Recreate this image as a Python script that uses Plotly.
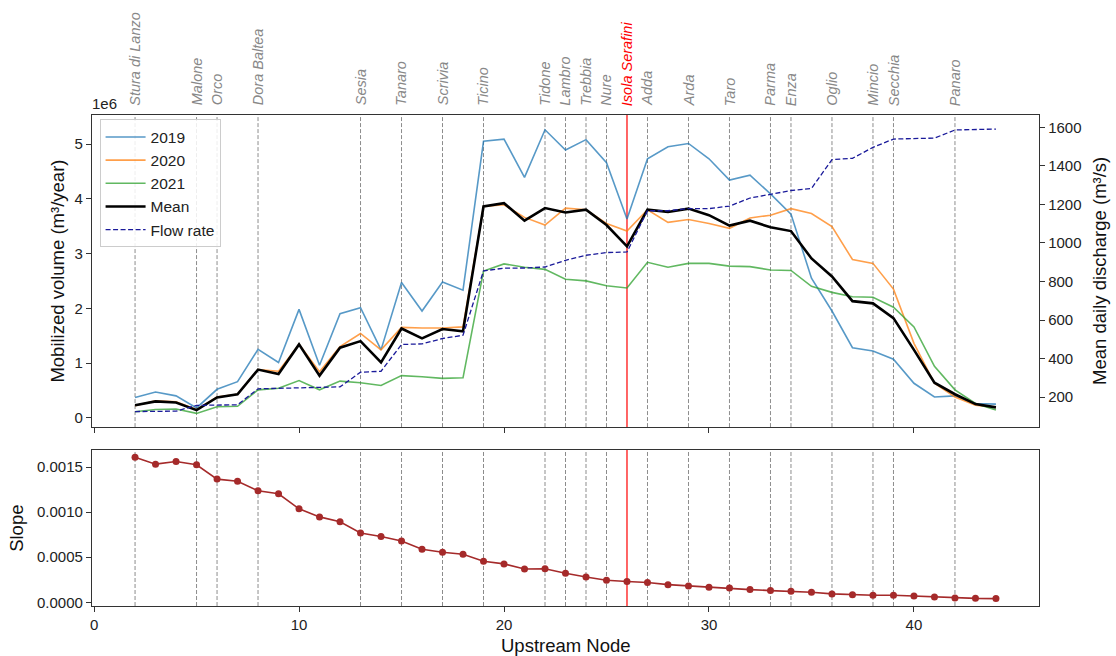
import plotly.graph_objects as go

# ---------------- data ----------------
nodes = list(range(2, 45))

vol_2019 = [0.37, 0.47, 0.40, 0.18, 0.52, 0.66, 1.25, 1.01, 1.98, 0.96, 1.90, 2.01, 1.24, 2.47,
            1.95, 2.48, 2.33, 5.05, 5.09, 4.39, 5.26, 4.89, 5.08, 4.66, 3.63, 4.73, 4.95, 5.01,
            4.73, 4.34, 4.43, 4.09, 3.72, 2.55, 1.95, 1.28, 1.22, 1.07, 0.63, 0.38, 0.40, 0.26, 0.25]
vol_2020 = [0.22, 0.31, 0.29, 0.15, 0.38, 0.43, 0.88, 0.85, 1.34, 0.84, 1.30, 1.54, 1.24, 1.65,
            1.64, 1.64, 1.66, 3.86, 3.89, 3.66, 3.52, 3.83, 3.80, 3.55, 3.41, 3.80, 3.57, 3.62,
            3.55, 3.46, 3.65, 3.70, 3.82, 3.73, 3.49, 2.89, 2.82, 2.35, 1.36, 0.63, 0.38, 0.23, 0.19]
vol_2021 = [0.11, 0.15, 0.16, 0.08, 0.20, 0.21, 0.51, 0.54, 0.68, 0.51, 0.67, 0.64, 0.59, 0.77,
            0.75, 0.72, 0.73, 2.68, 2.81, 2.75, 2.71, 2.53, 2.50, 2.41, 2.37, 2.84, 2.75, 2.82,
            2.82, 2.77, 2.76, 2.70, 2.69, 2.40, 2.29, 2.21, 2.20, 2.02, 1.66, 0.94, 0.51, 0.26, 0.14]
vol_mean = [0.23, 0.30, 0.28, 0.14, 0.37, 0.43, 0.88, 0.80, 1.34, 0.77, 1.28, 1.40, 1.01, 1.63,
            1.45, 1.62, 1.58, 3.86, 3.92, 3.60, 3.83, 3.75, 3.80, 3.52, 3.13, 3.80, 3.76, 3.82,
            3.70, 3.51, 3.60, 3.48, 3.41, 2.91, 2.58, 2.13, 2.09, 1.82, 1.24, 0.64, 0.43, 0.25, 0.19]
flow_rate = [125, 125, 127, 157, 157, 160, 243, 245, 248, 252, 253, 329, 334, 473,
             476, 504, 521, 855, 869, 870, 875, 910, 936, 950, 953, 1167, 1167, 1178,
             1178, 1191, 1233, 1252, 1272, 1283, 1432, 1439, 1496, 1539, 1543, 1544, 1586, 1588, 1591]
slope = [0.001611, 0.001533, 0.001563, 0.001526, 0.001367, 0.001344, 0.001237, 0.001204,
         0.001037, 0.000948, 0.000893, 0.000770, 0.000730, 0.000681, 0.000589, 0.000556,
         0.000533, 0.000456, 0.000426, 0.000370, 0.000372, 0.000322, 0.000281, 0.000244,
         0.000230, 0.000219, 0.000196, 0.000181, 0.000167, 0.000159, 0.000141, 0.000130,
         0.000122, 0.000111, 0.000093, 0.000085, 0.000078, 0.000078, 0.000070, 0.000059,
         0.000048, 0.000044, 0.000041]

trib_names = ["Stura di Lanzo", "Malone", "Orco", "Dora Baltea", "Sesia", "Tanaro", "Scrivia",
              "Ticino", "Tidone", "Lambro", "Trebbia", "Nure", "Isola Serafini", "Adda", "Arda",
              "Taro", "Parma", "Enza", "Oglio", "Mincio", "Secchia", "Panaro"]
trib_nodes = [2, 5, 6, 8, 13, 15, 17, 19, 22, 23, 24, 25, 26, 27, 29, 31, 33, 34, 36, 38, 39, 42]
dam_name = "Isola Serafini"

left_ticks = [0, 1, 2, 3, 4, 5]
right_ticks = [200, 400, 600, 800, 1000, 1200, 1400, 1600]
slope_ticks = [0.0, 0.0005, 0.0010, 0.0015]
x_ticks = [0, 10, 20, 30, 40]

# ---------------- figure ----------------
FONT = "Liberation Sans, Arial, sans-serif"
AX = "#333333"

fig = go.Figure()
fig.add_trace(go.Scatter(x=nodes, y=vol_2019, name="2019", mode="lines",
                         line=dict(color="rgba(31,119,180,0.75)", width=1.6), xaxis="x", yaxis="y"))
fig.add_trace(go.Scatter(x=nodes, y=vol_2020, name="2020", mode="lines",
                         line=dict(color="rgba(255,127,14,0.75)", width=1.6), xaxis="x", yaxis="y"))
fig.add_trace(go.Scatter(x=nodes, y=vol_2021, name="2021", mode="lines",
                         line=dict(color="rgba(44,160,44,0.75)", width=1.6), xaxis="x", yaxis="y"))
fig.add_trace(go.Scatter(x=nodes, y=vol_mean, name="Mean", mode="lines",
                         line=dict(color="black", width=2.6), xaxis="x", yaxis="y"))
fig.add_trace(go.Scatter(x=nodes, y=flow_rate, name="Flow rate", mode="lines",
                         line=dict(color="#1a1a9a", width=1.3, dash="5px,2.5px"), xaxis="x", yaxis="y2"))
fig.add_trace(go.Scatter(x=nodes, y=slope, name="Slope", mode="lines+markers", showlegend=False,
                         line=dict(color="#a52a2a", width=1.6),
                         marker=dict(color="#a52a2a", size=7), xaxis="x2", yaxis="y3"))

shapes = []
annotations = []
for name, n in zip(trib_names, trib_nodes):
    is_dam = name == dam_name
    ln = dict(color="red", width=1.2) if is_dam else dict(color="rgba(0,0,0,0.45)", width=1, dash="4px,2px")
    shapes.append(dict(type="line", xref="x", yref="y domain", x0=n, x1=n, y0=0, y1=1,
                       line=ln, layer="below"))
    shapes.append(dict(type="line", xref="x2", yref="y3 domain", x0=n, x1=n, y0=0, y1=1,
                       line=ln, layer="below"))
    annotations.append(dict(x=n, xref="x", y=1.0149, yref="paper", text=name, textangle=-90,
                            showarrow=False, xanchor="center", yanchor="bottom",
                            font=dict(family=FONT, size=14.5, color="red" if is_dam else "#888888",
                                      style="italic")))

# axis titles and offset text
annotations += [
    dict(text="1e6", x=-0.002, xref="paper", y=1.0027, yref="paper", xanchor="left", yanchor="bottom",
         showarrow=False, font=dict(family=FONT, size=15, color="#222")),
    dict(text="Mobilized volume (m³/year)", x=-0.0362, xref="paper", y=0.6825, yref="paper",
         textangle=-90, showarrow=False, xanchor="center", yanchor="middle",
         font=dict(family=FONT, size=18.5, color="#111")),
    dict(text="Mean daily discharge (m³/s)", x=1.0645, xref="paper", y=0.6825, yref="paper",
         textangle=-90, showarrow=False, xanchor="center", yanchor="middle",
         font=dict(family=FONT, size=18.5, color="#111")),
    dict(text="Slope", x=-0.0798, xref="paper", y=0.158, yref="paper",
         textangle=-90, showarrow=False, xanchor="center", yanchor="middle",
         font=dict(family=FONT, size=18.5, color="#111")),
    dict(text="Upstream Node", x=0.5, xref="paper", y=-0.0801, yref="paper",
         showarrow=False, xanchor="center", yanchor="middle",
         font=dict(family=FONT, size=18.5, color="#111")),
]

axcommon = dict(showline=True, linecolor=AX, linewidth=1.3, ticks="outside", ticklen=5,
                tickcolor=AX, tickwidth=1.2, showgrid=False, zeroline=False,
                tickfont=dict(family=FONT, size=15, color="#222"))

fig.update_layout(
    width=1116, height=656,
    margin=dict(l=92, r=77, t=115, b=50),
    plot_bgcolor="white", paper_bgcolor="white",
    font=dict(family=FONT, size=15, color="#222"),
    showlegend=True,
    legend=dict(x=0.008, y=0.991, xanchor="left", yanchor="top",
                bgcolor="rgba(255,255,255,0.85)", bordercolor="#cccccc", borderwidth=1,
                itemwidth=40,
                font=dict(family=FONT, size=15.5, color="#222"), tracegroupgap=0),
    xaxis=dict(domain=[0, 1], anchor="y", range=[-0.1, 46.1], tickvals=x_ticks,
               showticklabels=False, mirror=True, **axcommon),
    yaxis=dict(domain=[0.3644, 1], anchor="x", range=[-0.170, 5.530], tickvals=left_ticks,
               **axcommon),
    yaxis2=dict(overlaying="y", side="right", anchor="x", range=[44.4, 1663.8],
                tickvals=right_ticks, **axcommon),
    xaxis2=dict(domain=[0, 1], anchor="y3", range=[-0.1, 46.1], tickvals=x_ticks,
                mirror=True, **axcommon),
    yaxis3=dict(domain=[0, 0.3175], anchor="x2", range=[-0.0000411, 0.001689],
                tickvals=slope_ticks, tickformat=".4f", mirror=True, **axcommon),
    shapes=shapes,
    annotations=annotations,
)

fig.write_html("out.html")
